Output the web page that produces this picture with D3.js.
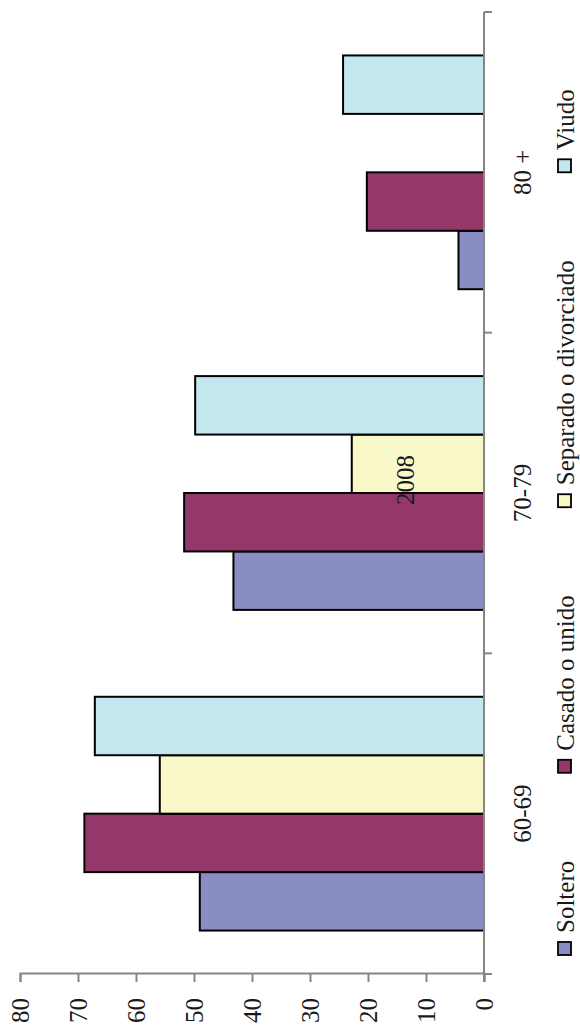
<!DOCTYPE html>
<html>
    <head>
        <meta charset="utf-8">
        <title>2008</title>
        <script src="https://cdn.jsdelivr.net/npm/d3@7"></script>
        <style>
            body { margin: 0; background: #fff; }
            text { font-family: "Liberation Serif", "Times New Roman", serif; fill: #1a1a1a; }
        </style>
    </head>
    <body>
        <script>
            // chart data
            var categories = ["60-69", "70-79", "80 +"];
            var seriesNames = ["Soltero", "Casado o unido", "Separado o divorciado", "Viudo"];
            var soltero = [49, 43.2, 4.4],
                casado = [68.9, 51.7, 20.2],
                separado = [55.9, 22.8, 0],
                viudo = [67.1, 49.8, 24.3];
            var valueTicks = [0, 10, 20, 30, 40, 50, 60, 70, 80];
            var colors = ["#8a8cc4", "#94386a", "#f8f8c8", "#c3e7ef"];
            var title = "2008";

            var seriesValues = [soltero, casado, separado, viudo];
            var rows = [];
            categories.forEach(function(c, i){
                seriesNames.forEach(function(s, j){
                    rows.push({ cat: c, series: s, value: seriesValues[j][i], color: colors[j] });
                });
            });

            var W = 580, H = 1027;
            var svg = d3.select("body")
                .append("svg")
                .attr("width", W)
                .attr("height", H);

            // the chart is drawn upright, then turned a quarter to the left
            var g = svg.append("g")
                .attr("transform", "translate(0," + H + ") rotate(-90)");

            var x0 = d3.scaleBand()
                .domain(categories)
                .range([53, 1015]);
            var pad = x0.bandwidth() * 0.1355;
            var x1 = d3.scaleBand()
                .domain(seriesNames)
                .range([pad, x0.bandwidth() - pad]);
            var y = d3.scaleLinear()
                .domain([0, 80])
                .range([484, 20]);

            // bars
            g.selectAll("rect.bar")
                .data(rows.filter(function(d){ return d.value > 0; }))
                .enter()
                .append("rect")
                .attr("class", "bar")
                .attr("x", function(d){ return x0(d.cat) + x1(d.series); })
                .attr("y", function(d){ return y(d.value); })
                .attr("width", x1.bandwidth())
                .attr("height", function(d){ return y(0) - y(d.value); })
                .attr("fill", function(d){ return d.color; })
                .attr("stroke", "#000")
                .attr("stroke-width", 2);

            // value axis
            var yAxis = g.append("g")
                .attr("transform", "translate(53,0)")
                .call(d3.axisLeft(y).tickValues(valueTicks).tickSize(8).tickPadding(16).tickFormat(d3.format("d")));
            yAxis.selectAll("text").style("font-size", "25px").attr("dy", "0.34em");

            // category axis, ticks on the band edges
            var edges = categories.map(function(c){ return x0(c); }).concat([x0.range()[1]]);
            var xAxis = g.append("g")
                .attr("transform", "translate(0,484)");
            xAxis.append("line")
                .attr("x1", 45).attr("x2", 1015);
            xAxis.selectAll("line.tick")
                .data(edges)
                .enter()
                .append("line")
                .attr("class", "tick")
                .attr("x1", function(d){ return d; })
                .attr("x2", function(d){ return d; })
                .attr("y1", 0).attr("y2", 8);
            xAxis.selectAll("text")
                .data(categories)
                .enter()
                .append("text")
                .attr("x", function(d){ return x0(d) + x0.bandwidth() / 2; })
                .attr("y", 47)
                .attr("text-anchor", "middle")
                .style("font-size", "25px")
                .text(function(d){ return d; });

            g.selectAll(".domain, .tick line, line")
                .attr("stroke", "#868686")
                .attr("stroke-width", 2);
            g.selectAll("rect.bar").raise();
            xAxis.raise();

            // title
            g.append("text")
                .attr("x", x0("70-79") + x0.bandwidth() / 2 + 13)
                .attr("y", 414)
                .attr("text-anchor", "middle")
                .style("font-size", "25px")
                .text(title);

            // legend along the bottom of the upright chart
            var legend = g.append("g").attr("transform", "translate(0,565)");
            var pos = 72;
            seriesNames.forEach(function(s, j){
                var item = legend.append("g").attr("transform", "translate(" + pos + ",0)");
                item.append("rect")
                    .attr("x", 0).attr("y", -7)
                    .attr("width", 13).attr("height", 13)
                    .attr("fill", colors[j])
                    .attr("stroke", "#000")
                    .attr("stroke-width", 1.8);
                var t = item.append("text")
                    .attr("x", 22)
                    .attr("y", 9)
                    .style("font-size", "25px")
                    .text(s);
                pos += 22 + t.node().getComputedTextLength() + 88;
            });
        </script>
    </body>
</html>
